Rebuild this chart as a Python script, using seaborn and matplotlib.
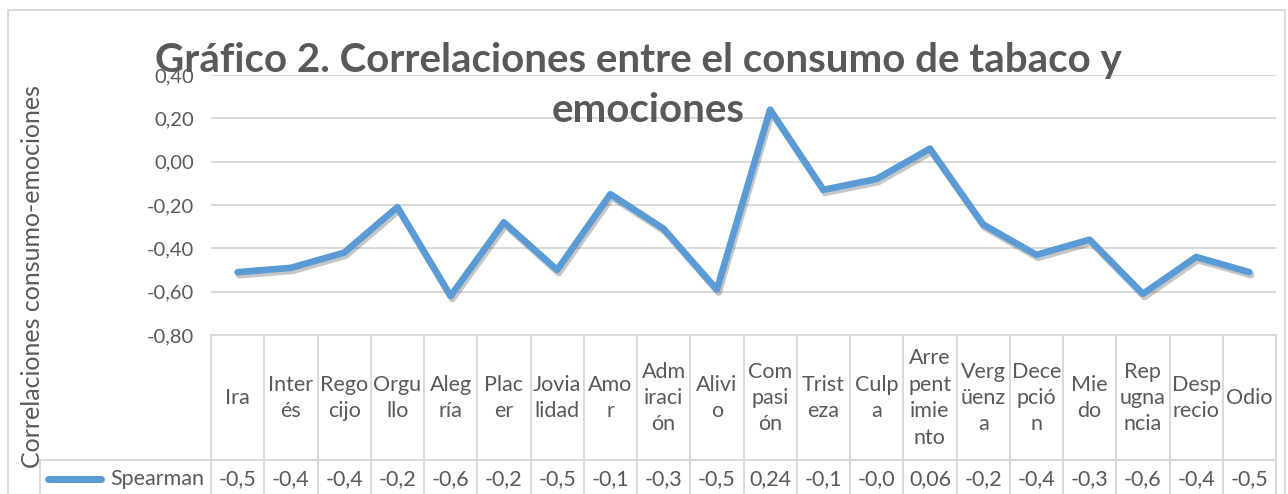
import matplotlib
matplotlib.use("Agg")
import matplotlib.pyplot as plt
import matplotlib.patheffects as pe
import matplotlib.transforms as mtransforms
from matplotlib.lines import Line2D
import seaborn as sns
import pandas as pd

# ==============================
# DATOS
# ==============================
emociones = ["Ira", "Interés", "Regocijo", "Orgullo", "Alegría", "Placer",
             "Jovialidad", "Amor", "Admiración", "Alivio", "Compasión",
             "Tristeza", "Culpa", "Arrepentimiento", "Vergüenza", "Decepción",
             "Miedo", "Repugnancia", "Desprecio", "Odio"]

# etiquetas tal como aparecen cortadas en la tabla de datos de Excel
etiquetas = ["Ira", "Inter\nés", "Rego\ncijo", "Orgu\nllo", "Aleg\nría", "Plac\ner",
             "Jovia\nlidad", "Amo\nr", "Adm\niraci\nón", "Alivi\no", "Com\npasi\nón",
             "Trist\neza", "Culp\na", "Arre\npent\nimie\nnto", "Verg\nüenz\na",
             "Dece\npció\nn", "Mie\ndo", "Rep\nugna\nncia", "Desp\nrecio", "Odio"]

spearman = [-0.51, -0.49, -0.42, -0.21, -0.62, -0.28, -0.50, -0.15, -0.31, -0.59,
            0.24, -0.13, -0.08, 0.06, -0.29, -0.43, -0.36, -0.61, -0.44, -0.51]

y_ticks = [0.40, 0.20, 0.00, -0.20, -0.40, -0.60, -0.80]

serie = "Spearman"
titulo_1 = "Gráfico 2. Correlaciones entre el consumo de tabaco y"
titulo_2 = "emociones"
eje_y = "Correlaciones consumo-emociones"

# ==============================
# ESTILO
# ==============================
sns.set_theme(style="white")
plt.rcParams["font.family"] = ["Lato", "DejaVu Sans"]

AZUL = "#5B9BD5"
GRIS = "#595959"
LINEA = "#D9D9D9"

W, H = 1288, 494
fig = plt.figure(figsize=(W / 100, H / 100), dpi=100)


def fx(px):
    return px / W


def fy(py):
    return 1 - py / H


ax = fig.add_axes([fx(211), fy(335), fx(1276) - fx(211), fy(75) - fy(335)])

df = pd.DataFrame({"emocion": emociones, "rho": spearman})
sns.lineplot(data=df, x="emocion", y="rho", sort=False, color=AZUL,
             linewidth=4.8, ax=ax)
linea = ax.lines[0]
linea.set_solid_capstyle("round")
linea.set_solid_joinstyle("round")
linea.set_path_effects([pe.SimpleLineShadow(offset=(1.2, -2.2), alpha=0.3, shadow_color="#444444"),
                        pe.Normal()])

ax.set_xlim(-0.5, len(emociones) - 0.5)
ax.set_ylim(-0.80, 0.40)
ax.set_yticks(y_ticks)
ax.set_yticklabels([f"{v:.2f}".replace(".", ",") for v in y_ticks], color=GRIS, fontsize=14.5)
ax.tick_params(axis="y", length=0, pad=12)
ax.set_xticks([])
ax.set_xlabel("")
ax.set_ylabel("")
ax.yaxis.grid(True, color=LINEA, linewidth=1.4)
ax.set_axisbelow(True)
for s in ax.spines.values():
    s.set_visible(False)

# ==============================
# TABLA DE DATOS
# ==============================
tr = mtransforms.blended_transform_factory(ax.transData, fig.transFigure)
y_top, y_mid, y_bot = fy(335), fy(460), fy(500)

for i in range(len(emociones) + 1):
    xb = i - 0.5
    ax.add_line(Line2D([xb, xb], [y_top, y_bot], transform=tr, color=LINEA,
                       linewidth=1.4, clip_on=False))
ax.add_line(Line2D([-0.5, len(emociones) - 0.5], [y_top, y_top], transform=tr,
                   color=LINEA, linewidth=1.4, clip_on=False))
fig.add_artist(Line2D([fx(40), fx(1276)], [y_mid, y_mid], color=LINEA, linewidth=1.4))
fig.add_artist(Line2D([fx(40), fx(40)], [y_mid, y_bot], color=LINEA, linewidth=1.4))

y_cat = fy(398)
y_val = fy(479)
for i, (lab, v) in enumerate(zip(etiquetas, spearman)):
    ax.text(i, y_cat, lab, transform=tr, ha="center", va="center", color=GRIS,
            fontsize=15.5, linespacing=1.4, clip_on=False)
    txt = f"{v:.2f}".replace(".", ",")[:4]
    ax.text(i, y_val, txt, transform=tr, ha="center", va="center", color=GRIS,
            fontsize=15.5, clip_on=False)

# clave de leyenda + nombre de la serie
fig.add_artist(Line2D([fx(48), fx(101)], [y_val, y_val], color=AZUL, linewidth=5,
                      solid_capstyle="round"))
fig.text(fx(204), y_val, serie, ha="right", va="center", color=GRIS, fontsize=15.5)

# ==============================
# TÍTULO, EJE Y Y BORDE
# ==============================
fig.text(fx(638), fy(72), titulo_1, ha="center", va="baseline", color=GRIS,
         fontsize=29, fontweight="bold")
fig.text(fx(648), fy(122), titulo_2, ha="center", va="baseline", color=GRIS,
         fontsize=29, fontweight="bold")
fig.text(fx(33), fy(277), eje_y, rotation=90, ha="center", va="center",
         color=GRIS, fontsize=18)

for xs, ys in [([fx(8), fx(8)], [fy(10), fy(520)]),
               ([fx(8), fx(1285)], [fy(10), fy(10)]),
               ([fx(1285), fx(1285)], [fy(10), fy(520)])]:
    fig.add_artist(Line2D(xs, ys, color=LINEA, linewidth=1.4))

fig.savefig("out.png", dpi=100)
plt.close(fig)
